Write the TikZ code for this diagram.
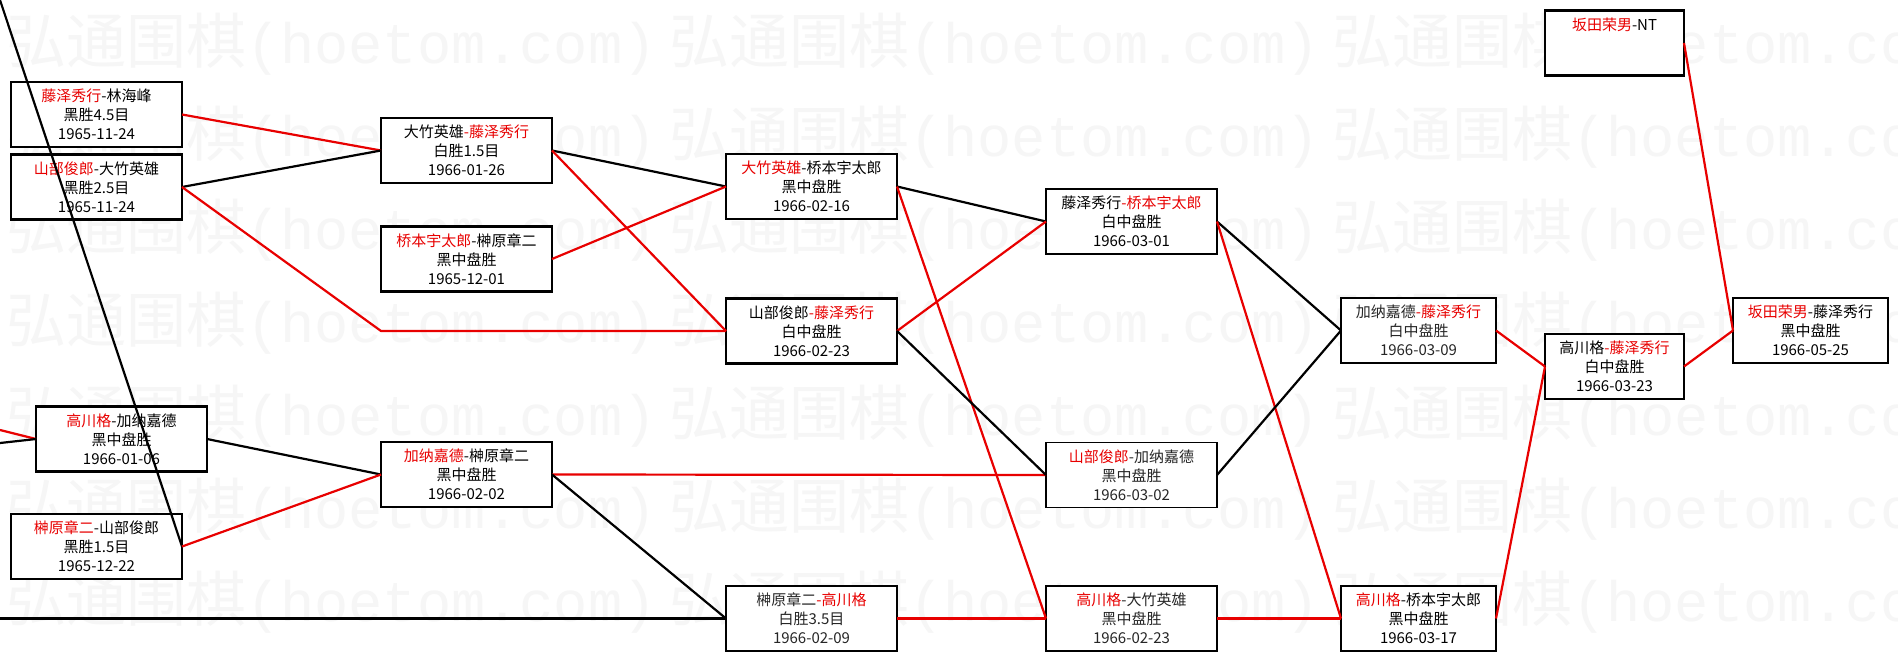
\documentclass[tikz,border=0pt]{standalone}
\usepackage{fontspec}
\setmainfont{Noto Sans CJK SC}
\newfontfamily\wmlatin{Liberation Mono}
\definecolor{wred}{RGB}{232,0,0}
\definecolor{wmgray}{RGB}{246,246,246}
\newcommand\rd[1]{\textcolor{wred}{#1}}
\begin{document}
\begin{tikzpicture}[x=1pt,y=-1pt,
  game/.style={draw=black, fill=white, line width=2.6pt, inner sep=0pt, outer sep=0pt,
    minimum width=171pt, minimum height=65pt, align=center,
    font=\fontsize{15}{19}\selectfont},
  thinbox/.style={line width=1.8pt, text=black!85},
  win/.style={draw=wred, line width=2.2pt},
  lose/.style={draw=black, line width=2.2pt},
  wmark/.style={text=wmgray, font=\fontsize{60}{60}\selectfont, anchor=west, inner sep=0pt}
]
\useasboundingbox (0,0) rectangle (1898,661);
\clip (0,0) rectangle (1898,661);
\fill[white] (0,0) rectangle (1898,661);
% watermark
\foreach \r in {0,...,6}{
  \foreach \c in {-1,0,1,2}{
    \node[wmark] (wm-\r-\c) at (6+663*\c, 44+93*\r) {弘通围棋{\wmlatin\fontsize{57}{57}\selectfont(hoetom.com)}};
  }
}
% column 1
\node[game] (A) at (96.5,114.5) {\rd{藤泽秀行}-林海峰\\黑胜4.5目\\1965-11-24};
\node[game] (B) at (96.5,187) {\rd{山部俊郎}-大竹英雄\\黑胜2.5目\\1965-11-24};
\node[game] (C) at (121.5,439) {\rd{高川格}-加纳嘉德\\黑中盘胜\\1966-01-06};
\node[game] (D) at (96.5,546.5) {\rd{榊原章二}-山部俊郎\\黑胜1.5目\\1965-12-22};
% column 2
\node[game] (E) at (466.5,150.5) {大竹英雄\rd{-藤泽秀行}\\白胜1.5目\\1966-01-26};
\node[game] (F) at (466.5,259) {\rd{桥本宇太郎}-榊原章二\\黑中盘胜\\1965-12-01};
\node[game] (G) at (466.5,474.5) {\rd{加纳嘉德}-榊原章二\\黑中盘胜\\1966-02-02};
% column 3
\node[game] (H) at (811.5,186.5) {\rd{大竹英雄}-桥本宇太郎\\黑中盘胜\\1966-02-16};
\node[game] (I) at (811.5,331) {山部俊郎\rd{-藤泽秀行}\\白中盘胜\\1966-02-23};
\node[game,thinbox] (J) at (811.5,618.5) {榊原章二\rd{-高川格}\\白胜3.5目\\1966-02-09};
% column 4
\node[game] (K) at (1131.5,221.5) {藤泽秀行\rd{-桥本宇太郎}\\白中盘胜\\1966-03-01};
\node[game,thinbox] (L) at (1131.5,475) {\rd{山部俊郎}-加纳嘉德\\黑中盘胜\\1966-03-02};
\node[game,thinbox] (M) at (1131.5,618.5) {\rd{高川格}-大竹英雄\\黑中盘胜\\1966-02-23};
% column 5
\node[game,thinbox,minimum width=155pt] (N) at (1418.5,330.5) {加纳嘉德\rd{-藤泽秀行}\\白中盘胜\\1966-03-09};
\node[game,minimum width=155pt] (P) at (1418.5,618.5) {\rd{高川格}-桥本宇太郎\\黑中盘胜\\1966-03-17};
% column 6
\node[game,minimum width=139pt] (Q) at (1614.5,366.5) {高川格\rd{-藤泽秀行}\\白中盘胜\\1966-03-23};
\node[game,minimum width=139pt] (S) at (1614.5,43) {\rd{坂田荣男}-NT\\\mbox{}\\\mbox{}};
% column 7
\node[game,minimum width=155pt] (R) at (1810.5,330.5) {\rd{坂田荣男}-藤泽秀行\\黑中盘胜\\1966-05-25};
% free ends at the left border
\coordinate (tl) at (0,0);
\coordinate (inr) at (0,430);
\coordinate (inb) at (0,443);
\coordinate (inh) at (0,618.5);
% connectors
\draw[lose] (tl) -- (D.east);
\draw[win] (inr) -- (C.west);
\draw[lose] (inb) -- (C.west);
\draw[lose] (inh) -- (J.west);
\draw[win] (A.east) -- (E.west);
\draw[lose] (B.east) -- (E.west);
\draw[win] (B.east) -- (E.west |- I.west) -- (I.west);
\draw[lose] (E.east) -- (H.west);
\draw[win] (E.east) -- (I.west);
\draw[win] (F.east) -- (H.west);
\draw[lose] (C.east) -- (G.west);
\draw[win] (D.east) -- (G.west);
\draw[win] (G.east) -- (L.west);
\draw[lose] (G.east) -- (J.west);
\draw[lose] (H.east) -- (K.west);
\draw[win] (H.east) -- (M.west);
\draw[win] (I.east) -- (K.west);
\draw[lose] (I.east) -- (L.west);
\draw[win] (J.east) -- (M.west);
\draw[lose] (K.east) -- (N.west);
\draw[win] (K.east) -- (P.west);
\draw[lose] (L.east) -- (N.west);
\draw[win] (M.east) -- (P.west);
\draw[win] (N.east) -- (Q.west);
\draw[win] (P.east) -- (Q.west);
\draw[win] (Q.east) -- (R.west);
\draw[win] (S.east) -- (R.west);
\end{tikzpicture}
\end{document}
